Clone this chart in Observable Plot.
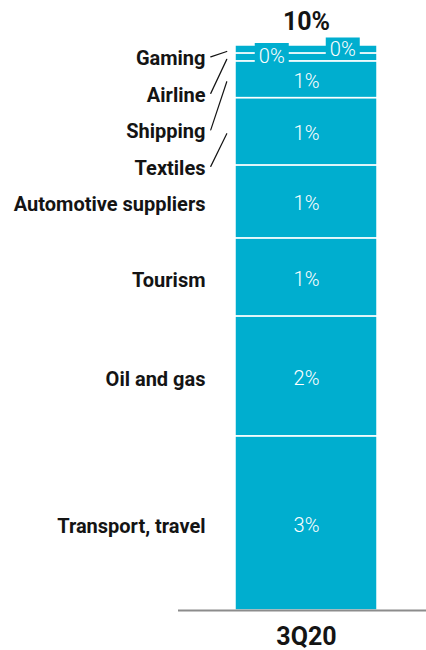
<!DOCTYPE html>
<html><head><meta charset="utf-8">
<script src="https://cdn.jsdelivr.net/npm/d3@7"></script>
<script src="https://cdn.jsdelivr.net/npm/@observablehq/plot@0.6"></script>
<style>body{margin:0;background:#fff}</style>
</head><body><div id="chart"></div>
<script>
const quarters = ["3Q20"];
const sectors = ["Transport, travel","Oil and gas","Tourism","Automotive suppliers","Textiles","Shipping","Airline","Gaming"];
const shares = [3.08, 2.12, 1.38, 1.29, 1.19, 0.65, 0.14, 0.14];
const shareLabels = ["3%","2%","1%","1%","1%","1%","0%","0%"];
const totalLabels = ["10%"];
const leaderSectors = ["Textiles","Shipping","Airline","Gaming"];
const boxedSectors = ["Airline","Gaming"];

const W = 426, H = 650, mT = 45, mB = 40, mL = 178, mR = 0;
const BLUE = "#00aecf", INK = "#141414";
const total = d3.sum(shares);
let acc = 0;
const rows = sectors.map((s, i) => {
  const y0 = acc; acc += shares[i];
  return {quarter: quarters[0], sector: s, value: shares[i], label: shareLabels[i], y0, y1: acc, mid: (y0 + acc) / 2};
});
const pxPerUnit = (H - mT - mB) / total;
const autoRow = rows.find(r => r.sector === "Automotive suppliers");
rows.forEach(r => {
  const k = leaderSectors.indexOf(r.sector);
  r.labelY = k < 0 ? r.mid : autoRow.mid + (k + 1) * 36.5 / pxPerUnit;
});
const leaders = rows.filter(r => leaderSectors.includes(r.sector)).map(r => {
  const dxp = 16, up = (r.mid - r.labelY) * pxPerUnit - 1;
  return {...r, len: Math.hypot(dxp, up), angle: Math.atan2(dxp, up) * 180 / Math.PI};
});
const totals = quarters.map((q, i) => ({quarter: q, total, label: totalLabels[i]}));
const lineShape = {draw(ctx, l) { ctx.moveTo(0, 0); ctx.lineTo(0, -l); }};
const boxSymbol = {draw(ctx) { ctx.rect(-17, -10.5, 34, 21); }};
const airline = rows.filter(r => r.sector === boxedSectors[0]);
const gaming = rows.filter(r => r.sector === boxedSectors[1]);

const chart = Plot.plot({
  width: W, height: H,
  marginTop: mT, marginBottom: mB, marginLeft: mL, marginRight: mR,
  style: {fontFamily: "Roboto, sans-serif", background: "#fff", color: INK},
  x: {domain: quarters, paddingInner: 0, paddingOuter: 0.3702, align: 0.5355, label: null},
  y: {domain: [0, total], axis: null},
  length: {type: "identity"},
  marks: [
    Plot.barY(rows, {x: "quarter", y: "value", fill: BLUE, stroke: "white", strokeWidth: 1.5}),
    Plot.ruleY([0], {stroke: "#8c8c8c", strokeWidth: 2}),
    Plot.axisX({tickSize: 0, tickPadding: 17, fontSize: 25, fontWeight: "bold", fill: INK, label: null}),
    Plot.dot(airline, {x: "quarter", y: "mid", symbol: boxSymbol, fill: BLUE, stroke: null, dx: -34.75, dy: -4}),
    Plot.dot(gaming, {x: "quarter", y: "mid", symbol: boxSymbol, fill: BLUE, stroke: null, dx: 36.25, dy: -1.5}),
    Plot.text(rows.filter(r => !boxedSectors.includes(r.sector)), {x: "quarter", y: "mid", text: "label", fill: "white", fontSize: 20, fontWeight: 300, dy: 2}),
    Plot.text(airline, {x: "quarter", y: "mid", text: "label", fill: "white", fontSize: 20, fontWeight: 300, dx: -34.75, dy: -1}),
    Plot.text(gaming, {x: "quarter", y: "mid", text: "label", fill: "white", fontSize: 20, fontWeight: 300, dx: 36.25, dy: 0}),
    Plot.text(rows, {x: "quarter", y: "labelY", text: "sector", textAnchor: "end", dx: -101, dy: 3, fontSize: 20, fontWeight: "bold", fill: INK}),
    Plot.vector(leaders, {x: "quarter", y: "labelY", length: "len", rotate: "angle", anchor: "start", shape: lineShape, stroke: INK, strokeWidth: 1.2, dx: -95.75, dy: 1}),
    Plot.text(totals, {x: "quarter", y: "total", text: "label", dy: -24, fontSize: 25, fontWeight: "bold", fill: INK})
  ]
});
document.getElementById("chart").appendChild(chart);
</script>
</body></html>
